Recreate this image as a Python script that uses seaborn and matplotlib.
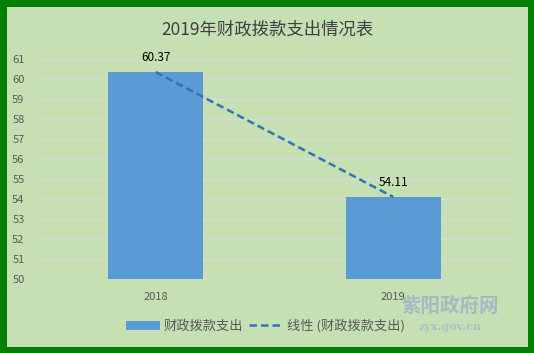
import numpy as np
import pandas as pd
import matplotlib.pyplot as plt
import seaborn as sns
from matplotlib.patches import Patch
from matplotlib.lines import Line2D

years = ["2018", "2019"]
spending = [60.37, 54.11]
y_ticks = list(range(50, 62))
series_name = "财政拨款支出"
trend_name = "线性 (财政拨款支出)"
title = "2019年财政拨款支出情况表"

df = pd.DataFrame({"year": years, "value": spending})

sns.set_style("white")
plt.rcParams["font.family"] = ["Noto Sans CJK SC", "DejaVu Sans"]

BG = "#C6E0B4"
BAR = "#5B9BD5"
LINE = "#2E75B6"

fig = plt.figure(figsize=(5.34, 3.53), dpi=100, facecolor=BG,
                 edgecolor="#008000", linewidth=8)
ax = fig.add_axes([37 / 534, 1 - 279 / 353, 475 / 534, 219.5 / 353])
ax.set_facecolor(BG)

sns.barplot(data=df, x="year", y="value", color=BAR, width=0.4,
            saturation=1, linewidth=0, ax=ax, zorder=3)

# linear trend through the series
xs = np.arange(len(spending))
k, b = np.polyfit(xs, spending, 1)
ax.plot(xs, k * xs + b, color=LINE, ls=(0, (3, 1.6)), lw=1.8, zorder=4)

for x, v in zip(xs, spending):
    ax.text(x, v + 0.4, f"{v:.2f}", ha="center", va="bottom",
            fontsize=8.5, color="#000000", zorder=5)

ax.set_ylim(50, 61)
ax.set_xlim(-0.5, 1.5)
ax.set_yticks(y_ticks)
ax.yaxis.grid(True, color="#D9D9D9", lw=0.9, zorder=0)
ax.tick_params(axis="both", length=0, labelsize=8, labelcolor="#595959")
ax.tick_params(axis="x", pad=9)
ax.tick_params(axis="y", pad=9)
ax.set_xlabel("")
ax.set_ylabel("")
for s in ax.spines.values():
    s.set_visible(False)

fig.text(0.5, 1 - 30 / 353, title, ha="center", va="center",
         fontsize=12.5, color="#404040")

handles = [Patch(facecolor=BAR, edgecolor="none"),
           Line2D([0], [0], color=LINE, ls=(0, (3, 1.6)), lw=1.8)]
fig.legend(handles, [series_name, trend_name], loc="center",
           bbox_to_anchor=(0.497, 1 - 326 / 353), ncol=2, frameon=False,
           fontsize=9.5, handlelength=2.6, handletextpad=0.3,
           columnspacing=0.4, labelcolor="#595959")

# site watermark
fig.text(0.843, 1 - 306 / 353, "紫阳政府网", ha="center", va="center",
         fontsize=14, fontweight="bold", color="#9DB4C8", alpha=0.85)
fig.text(0.843, 1 - 326 / 353, "zyx.gov.cn", ha="center", va="center",
         fontsize=8, family="DejaVu Serif", fontweight="bold",
         color="#A9BCCD", alpha=0.85)

fig.savefig("out.png", dpi=100, facecolor=BG, edgecolor=fig.get_edgecolor())
